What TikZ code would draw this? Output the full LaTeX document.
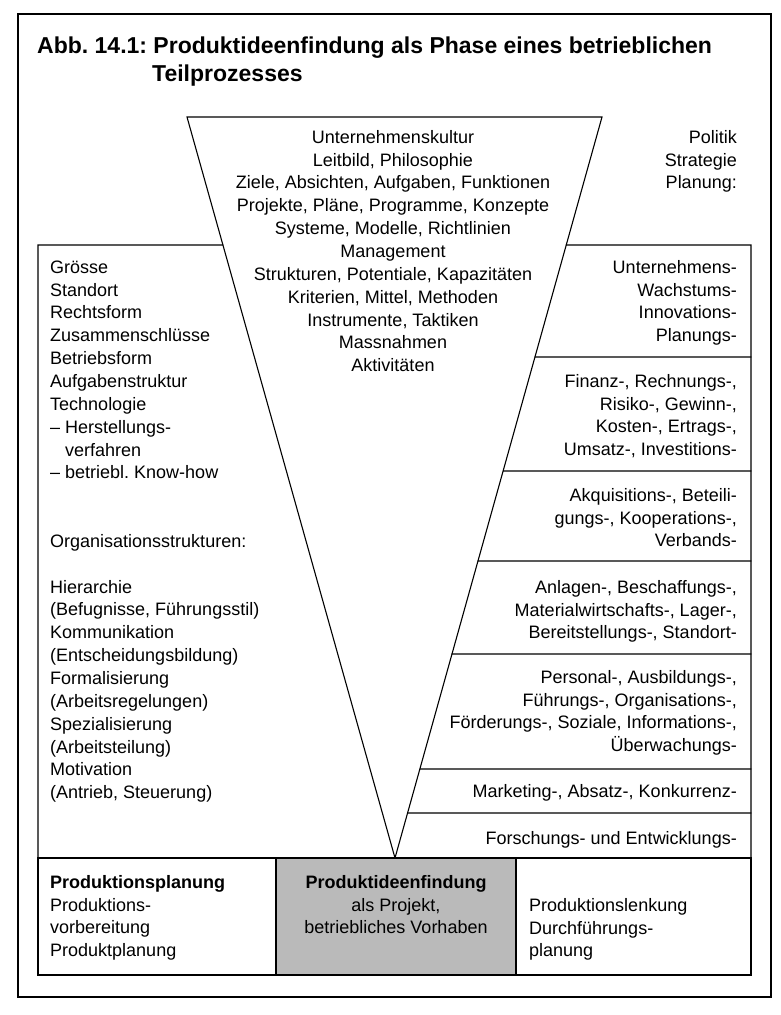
\documentclass[tikz,border=0pt]{standalone}
\usepackage{fontspec}
\setmainfont{Liberation Sans}
\usetikzlibrary{calc}
\frenchspacing
\begin{document}
\frenchspacing
\begin{tikzpicture}[x=1pt,y=-1pt,
  txt/.style={inner sep=0pt, font=\fontsize{18}{22.85}\selectfont},
  ttl/.style={inner sep=0pt, anchor=base west, font=\fontsize{23}{28}\selectfont\bfseries},
  frame/.style={line width=1.6pt},
  rule/.style={line width=1.1pt, line cap=round}]
\useasboundingbox (0,0) rectangle (780,1015);
% outer frame
\draw[frame] (18,14) rectangle (771,997);
% title
\node[ttl] (title1) at (37,53) {Abb. 14.1: Produktideenfindung als Phase eines betrieblichen};
\node[ttl] (title2) at (152,81) {Teilprozesses};
% triangle
\coordinate (TL) at (187,117);
\coordinate (TR) at (602,117);
\coordinate (AP) at (395,858);
\draw[rule] (TL) -- (TR) -- (AP) -- cycle;
% left box
\coordinate (LBa) at ($(TL)!0.1727!(AP)$);
\draw[rule] (LBa) -- (38,245) -- (38,858);
% right box
\coordinate (RBa) at ($(TR)!0.1727!(AP)$);
\draw[rule] (RBa) -- (751,245) -- (751,858);
\foreach \t/\yy [count=\i] in {0.3239/357,0.4777/471,0.5992/561,0.7247/654,0.8799/769,0.9393/813}{
  \coordinate (D\i) at ($(TR)!\t!(AP)$);
  \draw[rule] (D\i) -- (751,\yy);
}
% bottom row
\fill[black!27] (276,858) rectangle (516,975);
\draw[rule] (38,858) rectangle (751,975);
\draw[rule] (276,858) -- (276,975);
\draw[rule] (516,858) -- (516,975);
% triangle text
\node[txt, anchor=north, align=center] (tri) at (393,127) {\strut Unternehmenskultur\\Leitbild, Philosophie\\Ziele, Absichten, Aufgaben, Funktionen\\Projekte, Pläne, Programme, Konzepte\\Systeme, Modelle, Richtlinien\\Management\\Strukturen, Potentiale, Kapazitäten\\Kriterien, Mittel, Methoden\\Instrumente, Taktiken\\Massnahmen\\Aktivitäten};
\node[txt, anchor=north east, align=right] (pol) at (737,127) {\strut Politik\\Strategie\\Planung:};
% right texts
\node[txt, anchor=north east, align=right] (r1) at (737,257) {\strut Unternehmens-\\Wachstums-\\Innovations-\\Planungs-};
\node[txt, anchor=north east, align=right] (r2) at (737,371) {\strut Finanz-, Rechnungs-,\\Risiko-, Gewinn-,\\Kosten-, Ertrags-,\\Umsatz-, Investitions-};
\node[txt, anchor=north east, align=right] (r3) at (737,485) {\strut Akquisitions-, Beteili-\\gungs-, Kooperations-,\\Verbands-};
\node[txt, anchor=north east, align=right] (r4) at (737,577) {\strut Anlagen-, Beschaffungs-,\\Materialwirtschafts-, Lager-,\\Bereitstellungs-, Standort-};
\node[txt, anchor=north east, align=right] (r5) at (737,667) {\strut Personal-, Ausbildungs-,\\Führungs-, Organisations-,\\Förderungs-, Soziale, Informations-,\\Überwachungs-};
\node[txt, anchor=north east, align=right] (r6) at (737,781) {\strut Marketing-, Absatz-, Konkurrenz-};
\node[txt, anchor=north east, align=right] (r7) at (737,828) {\strut Forschungs- und Entwicklungs-};
% left text
\node[txt, anchor=north west, align=left] (left) at (50,257) {\strut Grösse\\Standort\\Rechtsform\\Zusammenschlüsse\\Betriebsform\\Aufgabenstruktur\\Technologie\\– Herstellungs-\\\phantom{– }verfahren\\– betriebl. Know-how\\\strut\\\strut\\Organisationsstrukturen:\\\strut\\Hierarchie\\(Befugnisse, Führungsstil)\\Kommunikation\\(Entscheidungsbildung)\\Formalisierung\\(Arbeitsregelungen)\\Spezialisierung\\(Arbeitsteilung)\\Motivation\\(Antrieb, Steuerung)};
% bottom texts
\node[txt, anchor=north west, align=left] (b1) at (50,872) {\strut\textbf{Produktionsplanung}\\Produktions-\\vorbereitung\\Produktplanung};
\node[txt, anchor=north, align=center] (b2) at (396,872) {\strut\textbf{Produktideenfindung}\\als Projekt,\\betriebliches Vorhaben};
\node[txt, anchor=north west, align=left] (b3) at (529,895) {\strut Produktionslenkung\\Durchführungs-\\planung};
\end{tikzpicture}
\end{document}
